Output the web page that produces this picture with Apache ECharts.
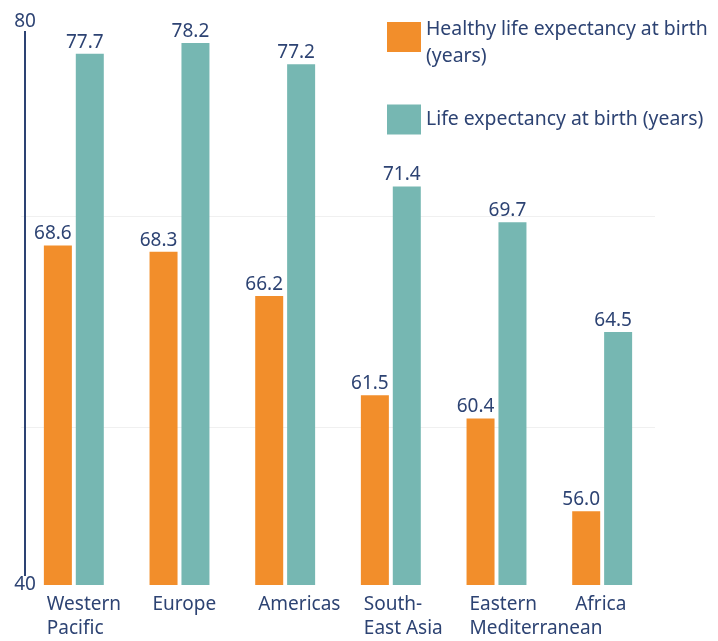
<!DOCTYPE html>
<html>
<head>
<meta charset="utf-8">
<script src="https://cdn.jsdelivr.net/npm/echarts@6/dist/echarts.min.js"></script>
<style>
  html, body { margin: 0; padding: 0; background: #fff; }
  #chart { width: 718px; height: 641px; }
</style>
</head>
<body>
<div id="chart"></div>
<script>
// data
const regions = ['Western\nPacific', 'Europe', 'Americas', 'South-\nEast Asia', 'Eastern\nMediterranean', 'Africa'];
const healthyLife = [68.6, 68.3, 66.2, 61.5, 60.4, 56.0];
const lifeExpectancy = [77.7, 78.2, 77.2, 71.4, 69.7, 64.5];
const seriesNames = ['Healthy life expectancy at birth\n(years)', 'Life expectancy at birth (years)'];
const yEndLabels = ['40', '80'];
const yGridValues = [60, 70];
const yMin = 52.5, yMax = 79.2;

const textColor = '#2d4373';
const font = 'Noto Sans';
const legendFont = { color: textColor, fontFamily: font, fontSize: 19.4 };

let chart = echarts.init(document.getElementById('chart'));

let valueLabel = {
  show: true,
  position: 'top',
  distance: 2,
  offset: [-5, 0],
  color: textColor,
  fontFamily: font,
  fontSize: 19,
  formatter: p => p.value.toFixed(1)
};

// the two-line legend entry sits a bit lower than its swatch
let legendText = name => {
  let lines = name.split('\n');
  if (lines.length < 2) return name;
  return lines.map((s, i) => '{l' + (i + 1) + '|' + s + '}').join('\n');
};

chart.setOption({
  animation: false,
  grid: { left: 21, right: 63, top: 22, bottom: 55 },
  legend: {
    orient: 'vertical',
    left: 387,
    top: 10,
    padding: 0,
    itemWidth: 34,
    itemHeight: 30,
    itemGap: 39,
    icon: 'rect',
    formatter: legendText,
    textStyle: Object.assign({
      lineHeight: 27,
      rich: {
        l1: Object.assign({ lineHeight: 38 }, legendFont),
        l2: Object.assign({ lineHeight: 16 }, legendFont)
      }
    }, legendFont)
  },
  xAxis: {
    type: 'category',
    data: regions,
    axisLine: { show: false },
    axisTick: { show: false },
    axisLabel: {
      interval: 0,
      align: 'left',
      padding: [0, 0, 0, -27],
      margin: 8,
      color: textColor,
      fontFamily: font,
      fontSize: 19,
      lineHeight: 24
    }
  },
  yAxis: {
    type: 'value',
    min: yMin,
    max: yMax,
    offset: -4,
    axisLine: { show: true, lineStyle: { color: textColor, width: 2 } },
    axisTick: { show: false, customValues: yGridValues },
    splitLine: { show: true, lineStyle: { color: '#f0f0f0' } },
    axisLabel: {
      customValues: [yMin, yMax],
      showMinLabel: true,
      showMaxLabel: true,
      margin: 0,
      align: 'center',
      verticalAlign: 'middle',
      backgroundColor: '#fff',
      lineHeight: 18,
      color: textColor,
      fontFamily: font,
      fontSize: 19,
      formatter: v => (v === yMin ? yEndLabels[0] : yEndLabels[1])
    }
  },
  series: [
    {
      name: seriesNames[0],
      type: 'bar',
      data: healthyLife,
      barWidth: 28,
      barGap: '14%',
      itemStyle: { color: '#f28e2b' },
      label: valueLabel
    },
    {
      name: seriesNames[1],
      type: 'bar',
      data: lifeExpectancy,
      barWidth: 28,
      itemStyle: { color: '#76b7b2' },
      label: valueLabel
    }
  ]
});
</script>
</body>
</html>
